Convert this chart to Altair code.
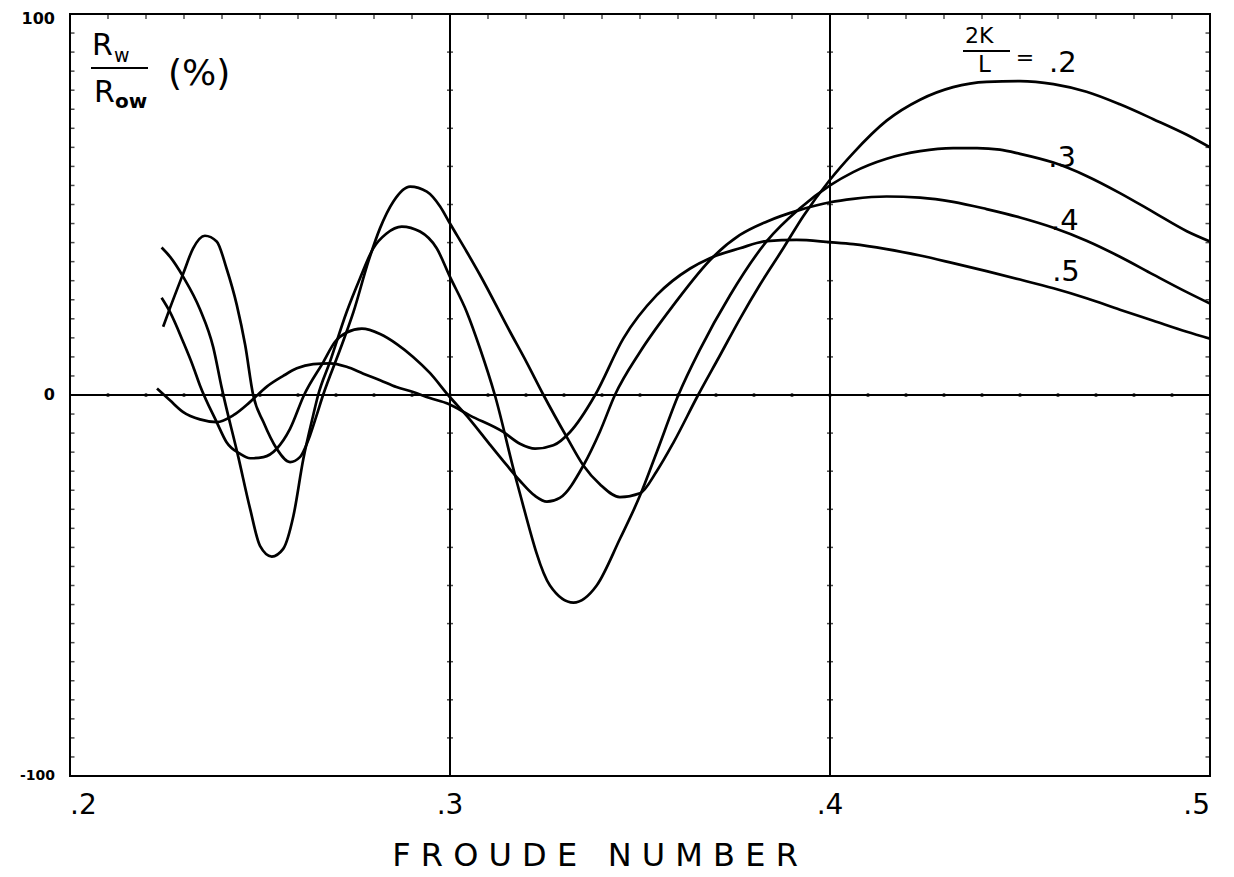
import altair as alt
import pandas as pd

# ---------------- data ----------------
ratios = [".2", ".3", ".4", ".5"]

F_02 = [0.2245, 0.2263, 0.2298, 0.2324, 0.2355, 0.2386, 0.2412, 0.2439, 0.2461, 0.2482,
        0.2509, 0.2544, 0.2579, 0.2605, 0.2632, 0.2650, 0.2666, 0.2711, 0.2746, 0.2785,
        0.2816, 0.2851, 0.2895, 0.2939, 0.2974, 0.3000, 0.3044, 0.3079, 0.3158, 0.3202,
        0.3246, 0.3307, 0.3351, 0.3395, 0.3447, 0.3500, 0.3544, 0.3588, 0.3653, 0.3711,
        0.3763, 0.3816, 0.3877, 0.3930, 0.4000, 0.4061, 0.4149, 0.4237, 0.4324, 0.4412,
        0.4500, 0.4588, 0.4675, 0.4763, 0.4851, 0.4939, 0.5000]
V_02 = [17.9, 22.8, 31.9, 38.5, 41.8, 40.3, 33.2, 23.6, 13.1, 0.0,
        -7.1, -14.1, -17.6, -16.3, -10.5, -5.0, 0.0, 12.0, 21.8, 35.0,
        43.8, 50.8, 54.7, 53.4, 49.5, 45.0, 37.6, 31.5, 16.6, 8.5,
        0.0, -11.0, -18.5, -23.5, -26.8, -25.8, -20.0, -12.5, 0.0, 10.5,
        20.0, 29.0, 38.5, 47.0, 56.5, 63.5, 72.0, 77.5, 80.8, 82.2,
        82.4, 81.6, 79.6, 76.3, 72.4, 68.3, 65.0]

F_03 = [0.2241, 0.2263, 0.2298, 0.2342, 0.2377, 0.2399, 0.2443, 0.2474, 0.2500, 0.2531,
        0.2561, 0.2588, 0.2614, 0.2640, 0.2653, 0.2684, 0.2728, 0.2763, 0.2798, 0.2833,
        0.2873, 0.2921, 0.2965, 0.3000, 0.3044, 0.3079, 0.3118, 0.3176, 0.3263, 0.3325,
        0.3386, 0.3447, 0.3500, 0.3544, 0.3601, 0.3658, 0.3737, 0.3833, 0.3921, 0.4000,
        0.4061, 0.4149, 0.4237, 0.4324, 0.4387, 0.4447, 0.4500, 0.4588, 0.4675, 0.4763,
        0.4851, 0.4939, 0.5000]
V_03 = [38.7, 36.3, 31.0, 22.5, 12.5, 2.0, -16.3, -29.9, -39.6, -42.4,
        -40.4, -31.7, -16.8, -5.3, 0.0, 8.7, 21.8, 30.6, 38.5, 42.4,
        44.2, 42.9, 38.5, 31.0, 21.8, 12.2, 0.0, -22.9, -50.0, -54.5,
        -50.0, -37.8, -26.4, -15.0, 0.0, 12.0, 26.2, 40.3, 49.0, 55.0,
        58.5, 62.0, 64.0, 64.8, 64.8, 64.4, 63.3, 61.0, 57.5, 53.0,
        48.0, 43.0, 40.3]

F_04 = [0.2241, 0.2263, 0.2298, 0.2324, 0.2342, 0.2386, 0.2412, 0.2447, 0.2474, 0.2509,
        0.2544, 0.2579, 0.2616, 0.2667, 0.2697, 0.2728, 0.2768, 0.2816, 0.2861, 0.2903,
        0.2947, 0.2995, 0.3053, 0.3105, 0.3150, 0.3184, 0.3224, 0.3255, 0.3289, 0.3351,
        0.3395, 0.3434, 0.3500, 0.3588, 0.3693, 0.3763, 0.3833, 0.3921, 0.4000, 0.4061,
        0.4149, 0.4237, 0.4324, 0.4412, 0.4500, 0.4588, 0.4675, 0.4763, 0.4851, 0.4939,
        0.5000]
V_04 = [25.5, 21.8, 13.9, 7.5, 2.5, -7.1, -12.4, -15.4, -16.6, -16.3,
        -14.1, -8.9, 0.0, 8.7, 13.9, 16.4, 17.4, 16.0, 13.3, 10.0,
        5.8, 0.0, -6.5, -13.0, -18.5, -22.5, -26.5, -28.0, -27.0, -18.5,
        -9.5, 0.0, 11.3, 23.6, 36.3, 42.0, 45.5, 48.6, 50.6, 51.5,
        52.1, 51.8, 50.7, 48.8, 46.6, 43.9, 40.5, 36.3, 31.6, 27.0,
        24.0]

F_05 = [0.2229, 0.2263, 0.2298, 0.2342, 0.2386, 0.2430, 0.2474, 0.2518, 0.2561,
        0.2597, 0.2640, 0.2684, 0.2728, 0.2772, 0.2816, 0.2859, 0.2903, 0.2947, 0.2995,
        0.3053, 0.3140, 0.3184, 0.3224, 0.3272, 0.3316, 0.3382, 0.3456, 0.3544, 0.3632,
        0.3684, 0.3763, 0.3833, 0.3912, 0.4000, 0.4061, 0.4149, 0.4237, 0.4324, 0.4412,
        0.4500, 0.4588, 0.4675, 0.4763, 0.4851, 0.4939, 0.5000]
V_05 = [1.7, -1.4, -4.5, -6.4, -7.1, -5.3, -1.8, 2.2, 5.0,
        7.0, 8.1, 8.3, 7.4, 5.6, 3.9, 2.1, 0.8, -0.8, -2.3,
        -5.4, -9.7, -12.8, -14.1, -13.2, -9.7, 0.0, 14.8, 26.2, 33.2,
        35.9, 38.5, 40.4, 40.7, 40.1, 39.6, 38.3, 36.6, 34.6, 32.5,
        30.3, 28.0, 25.4, 22.4, 19.5, 16.6, 14.8]

# curve labels (at the right side of the plot)
label_text = [".2", ".3", ".4", ".5"]
label_f = [0.4613, 0.4611, 0.4618, 0.4621]
label_v = [87.1, 62.1, 45.8, 32.4]

# axes
x_tick_vals = [0.2, 0.3, 0.4, 0.5]
x_tick_text = [".2", ".3", ".4", ".5"]
y_tick_vals = [100, 0, -100]
y_tick_text = ["100", "0", "-100"]
grid_x = [0.3, 0.4]
grid_y = [0]
minor_f = [0.21, 0.22, 0.23, 0.24, 0.25, 0.26, 0.27, 0.28, 0.29, 0.30,
           0.31, 0.32, 0.33, 0.34, 0.35, 0.36, 0.37, 0.38, 0.39, 0.40,
           0.41, 0.42, 0.43, 0.44, 0.45, 0.46, 0.47, 0.48, 0.49]
minor_v = [-95, -90, -85, -80, -75, -70, -65, -60, -55, -50, -45, -40, -35, -30, -25,
           -20, -15, -10, -5, 5, 10, 15, 20, 25, 30, 35, 40, 45, 50, 55, 60, 65, 70,
           75, 80, 85, 90, 95]
grid_tick_v = [-90, -80, -70, -60, -50, -40, -30, -20, -10, 10, 20, 30, 40, 50, 60, 70, 80, 90]

# ---------------- build ----------------
FONT = "DejaVu Sans"
W, H = 1140, 762
xs = alt.Scale(domain=[0.2, 0.5], nice=False, zero=False)
ys = alt.Scale(domain=[-100, 100], nice=False, zero=False)

frames = []
for r, fs, vs in zip(ratios, [F_02, F_03, F_04, F_05], [V_02, V_03, V_04, V_05]):
    frames.append(pd.DataFrame({"F": fs, "V": vs, "ratio": r}))
curves_df = pd.concat(frames, ignore_index=True)

X = alt.X("F:Q", scale=xs, axis=None)
Y = alt.Y("V:Q", scale=ys, axis=None)

curves = alt.Chart(curves_df).mark_line(
    color="black", strokeWidth=2.7, interpolate="monotone", clip=True
).encode(x=X, y=Y, detail="ratio:N", order="F:Q")

vgrid = alt.Chart(pd.DataFrame({"F": grid_x})).mark_rule(
    color="black", strokeWidth=2).encode(x=X)
hgrid = alt.Chart(pd.DataFrame({"V": grid_y})).mark_rule(
    color="black", strokeWidth=2).encode(y=Y)

top_ticks = alt.Chart(pd.DataFrame({"F": minor_f})).mark_tick(
    orient="vertical", size=10, thickness=1.5, color="black", clip=True
).encode(x=X, y=alt.value(0))
left_ticks = alt.Chart(pd.DataFrame({"V": minor_v})).mark_tick(
    orient="horizontal", size=9, thickness=1.5, color="black", clip=True
).encode(y=Y, x=alt.value(0))
right_ticks = alt.Chart(pd.DataFrame({"V": minor_v})).mark_tick(
    orient="horizontal", size=9, thickness=1.5, color="black", clip=True
).encode(y=Y, x=alt.value(W))
zero_dots = alt.Chart(pd.DataFrame({"F": minor_f, "V": [0] * len(minor_f)})).mark_point(
    filled=True, size=14, color="black", opacity=1
).encode(x=X, y=Y)
gt_rows = [(g, v) for g in grid_x for v in grid_tick_v]
grid_ticks = alt.Chart(pd.DataFrame({"F": [a for a, b in gt_rows], "V": [b for a, b in gt_rows]})).mark_tick(
    orient="horizontal", size=6, thickness=1.5, color="black"
).encode(x=X, y=Y)

# x tick labels
aligns = ["left", "center", "center", "right"]
xlabel_layers = []
for v, t, a in zip(x_tick_vals, x_tick_text, aligns):
    xlabel_layers.append(
        alt.Chart(pd.DataFrame({"F": [v], "t": [t]})).mark_text(
            align=a, baseline="middle", fontSize=28, font=FONT, color="black"
        ).encode(x=X, y=alt.value(H + 30), text="t:N")
    )

# y tick labels
ylabel_dy = [5, 0, 0]
ylabel_size = [16, 16, 14]
ylabel_layers = []
for v, t, d, s in zip(y_tick_vals, y_tick_text, ylabel_dy, ylabel_size):
    ylabel_layers.append(
        alt.Chart(pd.DataFrame({"V": [v], "t": [t]})).mark_text(
            align="right", baseline="middle", fontSize=s, fontWeight="bold", font=FONT,
            color="black", dy=d
        ).encode(y=Y, x=alt.value(-15), text="t:N")
    )

curve_labels = alt.Chart(pd.DataFrame({"F": label_f, "V": label_v, "t": label_text})).mark_text(
    align="center", baseline="middle", fontSize=29, font=FONT, color="black"
).encode(x=X, y=Y, text="t:N")


def txt(s, x, y, size, align="left", baseline="alphabetic", weight="normal"):
    return alt.Chart(pd.DataFrame({"t": [s]})).mark_text(
        align=align, baseline=baseline, fontSize=size, fontWeight=weight, font=FONT, color="black"
    ).encode(x=alt.value(x), y=alt.value(y), text="t:N")


def bar(x1, x2, y):
    return alt.Chart(pd.DataFrame({"t": [0]})).mark_rule(color="black", strokeWidth=2).encode(
        x=alt.value(x1), x2=alt.value(x2), y=alt.value(y))


# y title as a fraction inside the plot: R_w / R_ow (%)
ytitle = [
    txt("R", 22, 41, 30),
    txt("w", 44, 48, 19),
    bar(21, 78, 54),
    txt("R", 24, 88, 30),
    txt("ow", 45, 94, 20, weight="bold"),
    txt("(%)", 98, 71, 36),
]
# legend title 2K/L =
legend_title = [
    txt("2K", 895, 29, 22),
    bar(893, 940, 37),
    txt("L", 908, 58, 23),
    txt("=", 955, 51, 22, align="center"),
]
NB = "\u00a0"
xtitle = txt(NB.join("FROUDE") + NB * 3 + NB.join("NUMBER"), 525, 842, 32,
             align="center", baseline="middle")

chart = alt.layer(
    vgrid, hgrid, top_ticks, left_ticks, right_ticks, zero_dots, grid_ticks,
    curves, curve_labels, *ylabel_layers, *xlabel_layers, *ytitle, *legend_title, xtitle
).properties(
    width=W, height=H,
    autosize=alt.AutoSizeParams(type="none"),
    padding={"left": 62, "top": 6, "right": 16, "bottom": 100},
    background="white",
).configure_view(stroke="black", strokeWidth=2)

chart.save("out.html", embed_options={"renderer": "svg", "actions": False})
